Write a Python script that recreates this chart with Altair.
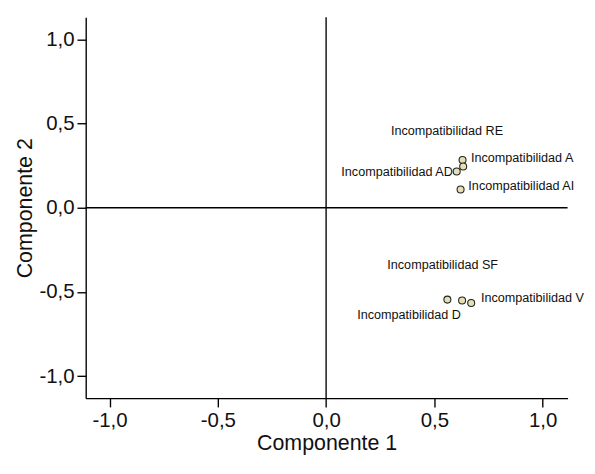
import altair as alt
import pandas as pd

names = ["Incompatibilidad RE", "Incompatibilidad A", "Incompatibilidad AD", "Incompatibilidad AI",
         "Incompatibilidad D", "Incompatibilidad SF", "Incompatibilidad V"]
comp1 = [0.630, 0.633, 0.603, 0.621, 0.560, 0.628, 0.670]
comp2 = [0.283, 0.245, 0.215, 0.108, -0.545, -0.550, -0.565]
ticks = [-1.0, -0.5, 0.0, 0.5, 1.0]

df = pd.DataFrame({"name": names, "c1": comp1, "c2": comp2})

label_expr = "replace(replace(format(datum.value, '.1f'), '.', ','), '\u2212', '-')"
xs = alt.Scale(domain=[-1.11, 1.115], nice=False, zero=False)
ys = alt.Scale(domain=[-1.13, 1.13], nice=False, zero=False)

base = alt.Chart(df)

pts = base.mark_point(shape="circle", filled=True, fill="#e6dfb3", stroke="#222222",
                      strokeWidth=1.1, size=52, opacity=1).encode(
    x=alt.X("c1:Q", scale=xs, title="Componente 1",
            axis=alt.Axis(values=ticks, labelExpr=label_expr)),
    y=alt.Y("c2:Q", scale=ys, title="Componente 2",
            axis=alt.Axis(values=ticks, labelExpr=label_expr)),
)

font = "Liberation Sans"

def lab(sel, align, dx, dy):
    return base.transform_filter(
        alt.FieldOneOfPredicate(field="name", oneOf=sel)
    ).mark_text(align=align, baseline="middle", dx=dx, dy=dy, font=font,
                fontSize=13, color="#111111").encode(
        x=alt.X("c1:Q", scale=xs), y=alt.Y("c2:Q", scale=ys), text="name:N")

labels = [
    lab(["Incompatibilidad RE"], "center", -16, -30),
    lab(["Incompatibilidad A"], "left", 8, -9),
    lab(["Incompatibilidad AD"], "right", -4, 1),
    lab(["Incompatibilidad AI"], "left", 8, -4),
    lab(["Incompatibilidad SF"], "center", -20, -36),
    lab(["Incompatibilidad D"], "right", 14, 16),
    lab(["Incompatibilidad V"], "left", 10, -5),
]

vline = alt.Chart(pd.DataFrame({"v": [0.0]})).mark_rule(color="black", strokeWidth=1.4).encode(
    x=alt.X("v:Q", scale=xs))
hline = alt.Chart(pd.DataFrame({"v": [0.0]})).mark_rule(color="black", strokeWidth=1.4).encode(
    y=alt.Y("v:Q", scale=ys))

chart = alt.layer(vline, hline, pts, *labels).properties(
    width=496, height=392,
    padding={"left": 5, "top": 2, "right": 2, "bottom": 0}
).configure_view(stroke=None).configure_axis(
    grid=False, domainColor="black", domainWidth=1.4, tickColor="black", tickWidth=1.4,
    tickSize=9, labelFont="Liberation Sans", labelFontSize=21,
    labelColor="#111111", titleFont="Liberation Sans", titleFontSize=22,
    titleFontWeight="normal", titleColor="#111111", labelPadding=3, titlePadding=3
).configure_axisX(titlePadding=3)

chart.save("out.html", embed_options={"renderer": "svg", "actions": False})
